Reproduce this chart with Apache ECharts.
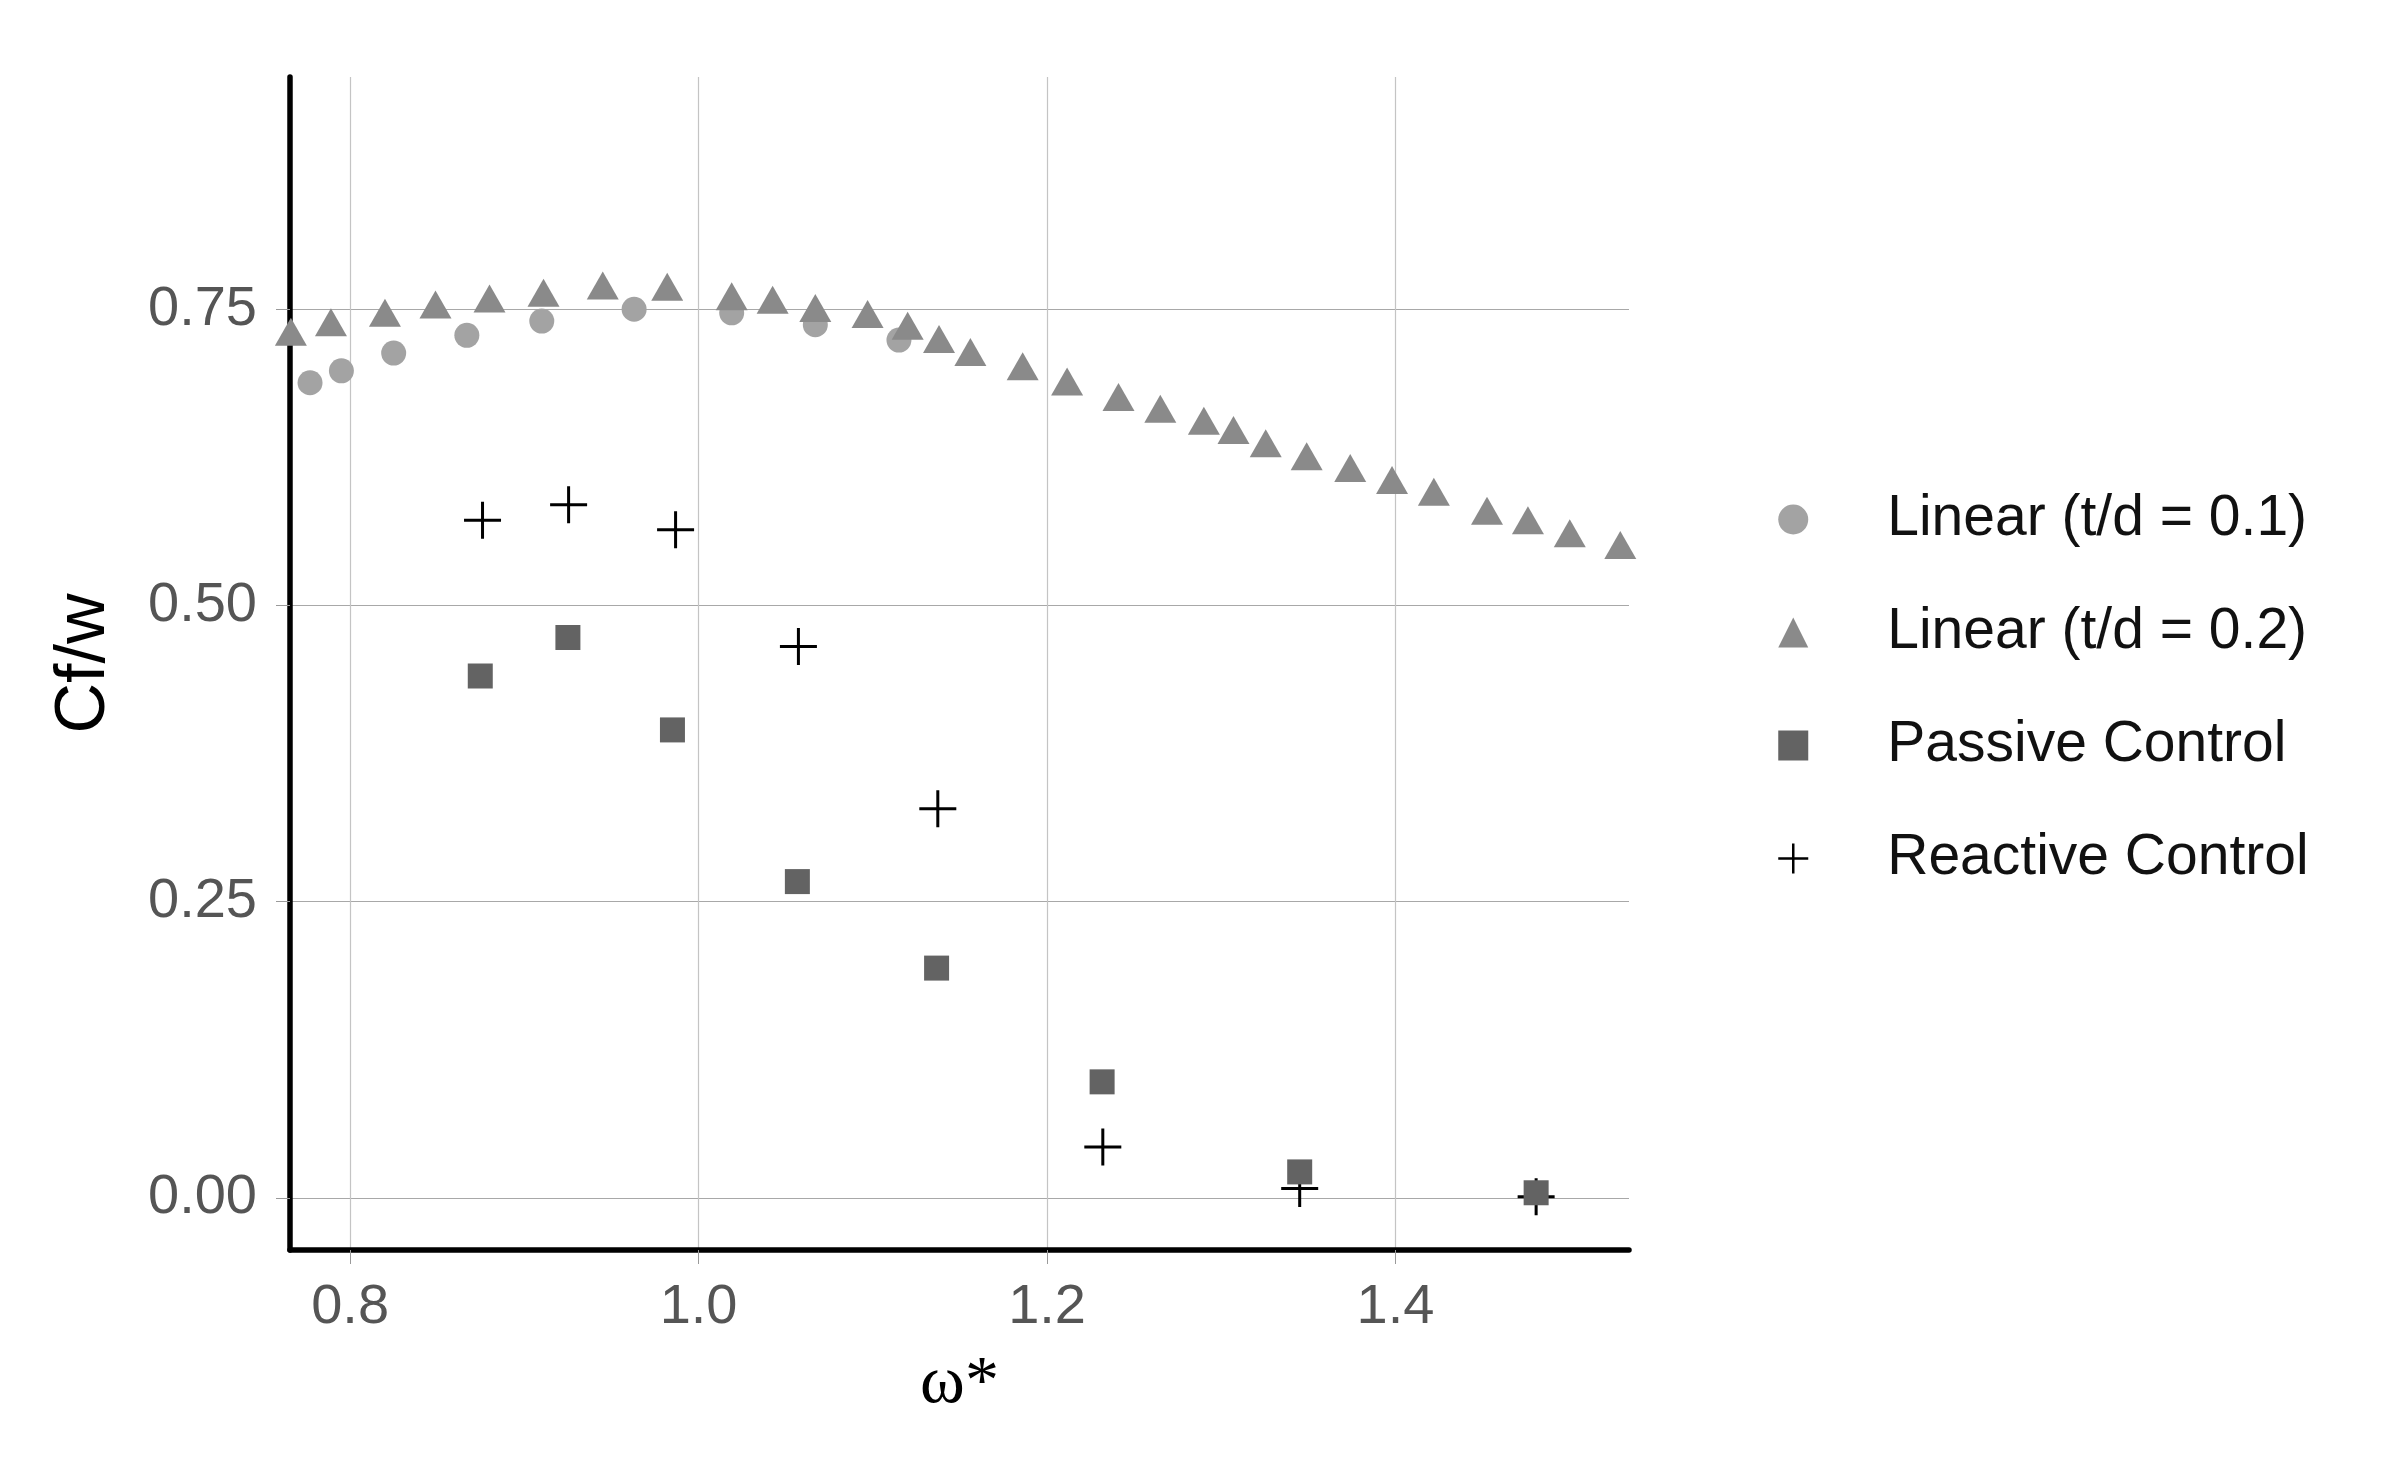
<!DOCTYPE html>
<html>
<head>
<meta charset="utf-8">
<script src="https://cdn.jsdelivr.net/npm/echarts@6/dist/echarts.min.js"></script>
<style>
  html, body { margin: 0; padding: 0; background: #fff; }
  #chart { width: 2384px; height: 1463px; }
</style>
</head>
<body>
<div id="chart"></div>
<script>
// values
const linear01X = [0.777, 0.795, 0.825, 0.867, 0.910, 0.963, 1.019, 1.067, 1.115];
const linear01Y = [0.688, 0.698, 0.713, 0.728, 0.740, 0.750, 0.747, 0.737, 0.724];

const linear02X = [0.766, 0.789, 0.820, 0.849, 0.880, 0.911, 0.945, 0.982, 1.019, 1.0425,
                   1.067, 1.097, 1.120, 1.138, 1.156, 1.186, 1.2115, 1.241, 1.265, 1.290,
                   1.307, 1.3255, 1.349, 1.374, 1.398, 1.422, 1.4525, 1.476, 1.500, 1.529];
const linear02Y = [0.731, 0.739, 0.747, 0.754, 0.759, 0.764, 0.770, 0.769, 0.761, 0.758,
                   0.751, 0.746, 0.736, 0.725, 0.714, 0.702, 0.689, 0.676, 0.666, 0.656,
                   0.648, 0.637, 0.626, 0.616, 0.606, 0.596, 0.580, 0.572, 0.561, 0.551];

const passiveX = [0.8747, 0.925, 0.985, 1.0567, 1.1366, 1.2316, 1.345, 1.4807];
const passiveY = [0.4405, 0.473, 0.395, 0.267, 0.194, 0.098, 0.022, 0.0044];

const reactiveX = [0.876, 0.9254, 0.9868, 1.0573, 1.1373, 1.232, 1.345, 1.4807];
const reactiveY = [0.572, 0.585, 0.564, 0.4654, 0.3285, 0.043, 0.008, 0.001];

const xTicks = [0.8, 1.0, 1.2, 1.4];
const yTicks = [0.00, 0.25, 0.50, 0.75];

const seriesNames = ['Linear (t/d = 0.1)', 'Linear (t/d = 0.2)', 'Passive Control', 'Reactive Control'];

const pairs = (xs, ys) => xs.map((x, i) => [x, ys[i]]);
const crossPath = 'path://M0,-18.5 L0,18.5 M-18.5,0 L18.5,0';

const chart = echarts.init(document.getElementById('chart'));
chart.setOption({
    animation: false,
    backgroundColor: '#ffffff',
    grid: { left: 290, top: 77, right: 755, bottom: 213, containLabel: false },
    xAxis: {
        type: 'value',
        min: 0.7655,
        max: 1.534,
        name: 'ω*',
        nameLocation: 'middle',
        nameGap: 100,
        nameTextStyle: { fontFamily: 'Liberation Serif', fontSize: 68, color: '#000' },
        axisLine: { show: true, onZero: false, lineStyle: { color: '#000', width: 5.5 } },
        axisTick: { show: true, length: 14, customValues: xTicks, lineStyle: { color: '#9a9a9a', width: 1 } },
        axisLabel: {
            customValues: xTicks, margin: 30, fontSize: 56, color: '#555',
            fontFamily: 'Liberation Sans', formatter: v => v.toFixed(1)
        },
        splitLine: { show: true, lineStyle: { color: '#c4c4c4', width: 1.2 } }
    },
    yAxis: {
        type: 'value',
        min: -0.0439,
        max: 0.946,
        name: 'Cf/w',
        nameLocation: 'middle',
        nameRotate: 90,
        nameGap: 170,
        nameTextStyle: { fontFamily: 'Liberation Sans', fontSize: 70, color: '#000' },
        axisLine: { show: true, onZero: false, lineStyle: { color: '#000', width: 5.5 } },
        axisTick: { show: true, length: 14, customValues: yTicks, lineStyle: { color: '#9a9a9a', width: 1 } },
        axisLabel: {
            customValues: yTicks, margin: 33, fontSize: 56, color: '#555',
            fontFamily: 'Liberation Sans', formatter: v => v.toFixed(2)
        },
        splitLine: { show: true, lineStyle: { color: '#a8a8a8', width: 1.2 } }
    },
    legend: {
        orient: 'vertical',
        left: 1777,
        top: 491,
        padding: 0,
        itemWidth: 30,
        itemHeight: 30,
        itemGap: 56,
        textStyle: {
            fontFamily: 'Liberation Sans', fontSize: 57, lineHeight: 57,
            color: '#111', padding: [0, 0, 0, 74]
        },
        data: [
            { name: seriesNames[0] },
            { name: seriesNames[1] },
            { name: seriesNames[2] },
            { name: seriesNames[3], itemStyle: { color: '#000', borderColor: '#000', borderWidth: 2.5 } }
        ]
    },
    series: [
        {
            name: seriesNames[0], type: 'scatter', symbol: 'circle', symbolSize: 25,
            itemStyle: { color: '#a3a3a3', opacity: 1 },
            data: pairs(linear01X, linear01Y)
        },
        {
            name: seriesNames[1], type: 'scatter', symbol: 'triangle', symbolSize: [32, 28],
            itemStyle: { color: '#8a8a8a', opacity: 1 },
            data: pairs(linear02X, linear02Y)
        },
        {
            name: seriesNames[3], type: 'scatter', symbol: crossPath, symbolSize: 37,
            itemStyle: { color: '#000', borderColor: '#000', borderWidth: 3, opacity: 1 },
            data: pairs(reactiveX, reactiveY)
        },
        {
            name: seriesNames[2], type: 'scatter', symbol: 'rect', symbolSize: 25,
            itemStyle: { color: '#636363', opacity: 1 },
            data: pairs(passiveX, passiveY)
        }
    ]
});
</script>
</body>
</html>
